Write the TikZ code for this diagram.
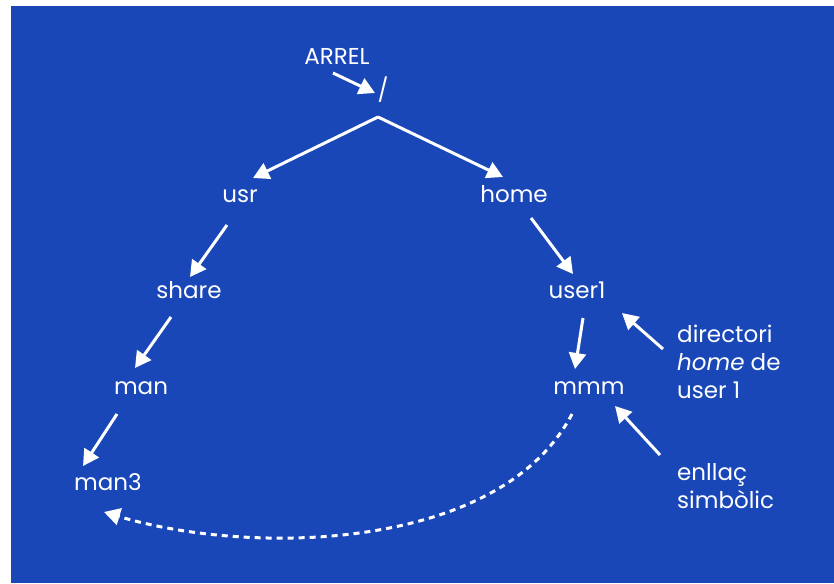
\documentclass[tikz,border=0pt]{standalone}
\usepackage{fontspec}
\setmainfont{Poppins}
\usetikzlibrary{arrows.meta}
\definecolor{bg}{RGB}{26,71,184}
\tikzset{
  lbl/.style={text=white, anchor=base, inner sep=0pt, font=\fontsize{23}{28}\selectfont},
  note/.style={text=white, anchor=base west, inner sep=0pt, align=left, font=\fontsize{23}{28}\selectfont},
  arr/.style={draw=white, line width=3pt, -{Triangle[length=16pt,width=17pt]}},
  link/.style={draw=white, line width=3pt, dash pattern=on 6pt off 5pt, -{Triangle[length=16pt,width=17pt]}}
}
\begin{document}
\begin{tikzpicture}[x=1pt,y=-1pt]
\useasboundingbox (0,0) rectangle (834,583);
\fill[bg] (11,6) rectangle (834,583);
% nodes
\node[lbl] (arrel) at (337,65) {ARREL};
\node[lbl] (root) at (383,99) {/};
\node[lbl] (usr) at (240,202) {usr};
\node[lbl] (home) at (514,202) {home};
\node[lbl] (share) at (189,298) {share};
\node[lbl] (user1) at (577,298) {user1};
\node[lbl] (man) at (141,394) {man};
\node[lbl] (mmm) at (589,394) {mmm};
\node[lbl] (man3) at (108,490) {man3};
\node[note] (dir) at (677,398) {directori\\\textit{home} de\\user 1};
\node[note] (enl) at (677,508) {enllaç\\simbòlic};
% coordinates
\coordinate (apex) at (378,117);
\coordinate (a0) at (333,73);
\coordinate (a1) at (375,93);
\coordinate (u1) at (253,178);
\coordinate (h1) at (503,177);
\coordinate (s0) at (227,225);
\coordinate (s1) at (190,277);
\coordinate (m0) at (171,317);
\coordinate (m1) at (135,368);
\coordinate (n0) at (117,414);
\coordinate (n1) at (83,466);
\coordinate (p0) at (531,218);
\coordinate (p1) at (573,274);
\coordinate (q0) at (583,318);
\coordinate (q1) at (575,369);
\coordinate (d0) at (663,349);
\coordinate (d1) at (622,313);
\coordinate (e0) at (660,455);
\coordinate (e1) at (615,406);
\coordinate (l0) at (572,414);
\coordinate (l1) at (104,512);
% connectors
\draw[arr] (a0) -- (a1);
\draw[arr] (apex) -- (u1);
\draw[arr] (apex) -- (h1);
\draw[arr] (s0) -- (s1);
\draw[arr] (m0) -- (m1);
\draw[arr] (n0) -- (n1);
\draw[arr] (p0) -- (p1);
\draw[arr] (q0) -- (q1);
\draw[arr] (d0) -- (d1);
\draw[arr] (e0) -- (e1);
\draw[link] (l0) .. controls (500,552) and (250,556) .. (l1);
\end{tikzpicture}
\end{document}
